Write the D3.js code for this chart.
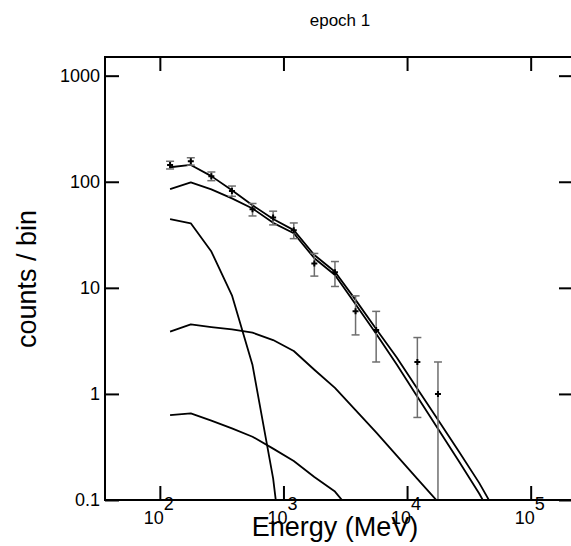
<!DOCTYPE html>
<html>
<head>
<meta charset="utf-8">
<script src="https://cdn.jsdelivr.net/npm/d3@7"></script>
<style>
  body { margin: 0; background: #fff; }
  text { font-family: "Liberation Sans", Arial, Helvetica, sans-serif; }
</style>
</head>
<body>
<div id="app"></div>
<script>
// Bin centres (MeV), six log bins per decade
const energy = [121, 178, 261, 383, 562, 825, 1212, 1778, 2610, 3831, 5623, 8254,
  12115, 17783, 26102, 38312, 56234];

// Observed counts per bin and their errors (bin 12 has no counts)
const counts = [144, 156, 113, 82, 55, 46, 35, 17, 14, 6, 4, 0, 2, 1];
const errors = [12, 12.5, 10.6, 9.1, 7.4, 6.8, 5.9, 4.1, 3.7, 2.4, 2, 0, 1.4, 1];

// Model curves (counts / bin at each bin centre)
const modelTotal = [137, 144, 113, 83, 60, 44.5, 35, 20.4, 14.2, 7.7, 4.1, 2.2, 1.12,
  0.57, 0.29, 0.145, 0.066];
const modelMain = [85.3, 98.6, 84.7, 69.8, 56, 41, 32.7, 19, 13.2, 7.0, 3.7, 1.89, 0.94,
  0.47, 0.234, 0.115, 0.052];
const modelSteep = [44.5, 40.6, 22, 8.5, 1.87, 0.16, 0.004];
const modelFlat = [3.86, 4.53, 4.27, 4.05, 3.78, 3.22, 2.54, 1.69, 1.14, 0.705, 0.433,
  0.262, 0.158, 0.096, 0.05];
const modelLow = [0.632, 0.656, 0.561, 0.474, 0.395, 0.305, 0.233, 0.165, 0.12, 0.07];

const xTicks = [1e2, 1e3, 1e4, 1e5];
const xExponents = ["2", "3", "4", "5"];
const yTicks = [0.1, 1, 10, 100, 1000];
const yTickLabels = ["0.1", "1", "10", "100", "1000"];

const width = 571;
const height = 546;
const margin = { top: 57, right: -2, bottom: 46, left: 105 };

const svg = d3
  .select("#app")
  .append("svg")
  .attr("width", width)
  .attr("height", height);

const x = d3
  .scaleLog()
  .domain([36, 2.2e5])
  .range([margin.left, width - margin.right]);

const y = d3
  .scaleLog()
  .domain([0.1, 1500])
  .range([height - margin.bottom, margin.top]);

// Clip so curves stop at the frame
svg
  .append("clipPath")
  .attr("id", "plot-clip")
  .append("rect")
  .attr("x", margin.left)
  .attr("y", margin.top)
  .attr("width", width - margin.right - margin.left)
  .attr("height", height - margin.bottom - margin.top);

// Model lines
const line = d3
  .line()
  .x((d, i) => x(energy[i]))
  .y((d) => y(d));

svg
  .append("g")
  .attr("clip-path", "url(#plot-clip)")
  .selectAll("path")
  .data([modelTotal, modelMain, modelSteep, modelFlat, modelLow])
  .join("path")
  .attr("fill", "none")
  .attr("stroke", "#000")
  .attr("stroke-width", 1.8)
  .attr("stroke-linejoin", "round")
  .attr("d", line);

// Data points with error bars
const points = counts
  .map((c, i) => ({ e: energy[i], c: c, err: errors[i] }))
  .filter((d) => d.c > 0);

const pts = svg.append("g").attr("clip-path", "url(#plot-clip)");
const lo = (d) => (d.c - d.err > 0 ? y(d.c - d.err) : height - margin.bottom);

pts
  .selectAll(".bar")
  .data(points)
  .join("line")
  .attr("class", "bar")
  .attr("x1", (d) => x(d.e))
  .attr("x2", (d) => x(d.e))
  .attr("y1", (d) => y(d.c + d.err))
  .attr("y2", lo)
  .attr("stroke", "#6e6e6e")
  .attr("stroke-width", 1.5);

pts
  .selectAll(".cap-top")
  .data(points)
  .join("line")
  .attr("class", "cap-top")
  .attr("x1", (d) => x(d.e) - 4)
  .attr("x2", (d) => x(d.e) + 4)
  .attr("y1", (d) => y(d.c + d.err))
  .attr("y2", (d) => y(d.c + d.err))
  .attr("stroke", "#6e6e6e")
  .attr("stroke-width", 1.5);

pts
  .selectAll(".cap-bot")
  .data(points.filter((d) => d.c - d.err > 0))
  .join("line")
  .attr("class", "cap-bot")
  .attr("x1", (d) => x(d.e) - 4)
  .attr("x2", (d) => x(d.e) + 4)
  .attr("y1", lo)
  .attr("y2", lo)
  .attr("stroke", "#6e6e6e")
  .attr("stroke-width", 1.5);

pts
  .selectAll(".mark")
  .data(points)
  .join("path")
  .attr("class", "mark")
  .attr("d", (d) => {
    const px = x(d.e), py = y(d.c);
    return `M${px - 3},${py}H${px + 3}M${px},${py - 3}V${py + 3}`;
  })
  .attr("stroke", "#000")
  .attr("stroke-width", 2);

// Axes: ticks point inwards on all four sides
const tick = 14;
const styleAxis = (g) => {
  g.select(".domain").remove();
  g.selectAll(".tick line").attr("stroke", "#000").attr("stroke-width", 2);
  g.selectAll(".tick text")
    .attr("fill", "#000")
    .style("font-size", "18px")
    .style("font-family", '"Liberation Sans", Arial, sans-serif');
};

svg
  .append("g")
  .attr("transform", `translate(0,${height - margin.bottom})`)
  .call(d3.axisBottom(x).tickValues(xTicks).tickSize(-tick).tickFormat(""))
  .call(styleAxis);

svg
  .append("g")
  .attr("transform", `translate(0,${margin.top})`)
  .call(d3.axisTop(x).tickValues(xTicks).tickSize(-tick).tickFormat(""))
  .call(styleAxis);

svg
  .append("g")
  .attr("transform", `translate(${margin.left},0)`)
  .call(
    d3
      .axisLeft(y)
      .tickValues(yTicks)
      .tickSize(-tick)
      .tickPadding(5)
      .tickFormat((d, i) => yTickLabels[i])
  )
  .call(styleAxis);

svg
  .append("g")
  .attr("transform", `translate(${width - margin.right},0)`)
  .call(d3.axisRight(y).tickValues(yTicks).tickSize(-tick).tickFormat(""))
  .call(styleAxis);

// Frame
svg
  .append("rect")
  .attr("x", margin.left)
  .attr("y", margin.top)
  .attr("width", width - margin.right - margin.left)
  .attr("height", height - margin.bottom - margin.top)
  .attr("fill", "none")
  .attr("stroke", "#000")
  .attr("stroke-width", 2);

// Power-of-ten labels under the bottom axis
const xLab = svg
  .append("g")
  .selectAll("text")
  .data(xTicks)
  .join("text")
  .attr("x", (d) => x(d) - 1)
  .attr("y", 524)
  .attr("text-anchor", "middle")
  .style("font-size", "18px");
xLab.append("tspan").text("10");
xLab
  .append("tspan")
  .attr("dy", -14)
  .text((d, i) => xExponents[i]);

// Titles
svg
  .append("text")
  .attr("x", 335)
  .attr("y", 536)
  .attr("text-anchor", "middle")
  .style("font-size", "27px")
  .text("Energy (MeV)");

svg
  .append("text")
  .attr("transform", "translate(36,279) rotate(-90)")
  .attr("text-anchor", "middle")
  .style("font-size", "27px")
  .text("counts / bin");

svg
  .append("text")
  .attr("x", 340)
  .attr("y", 26)
  .attr("text-anchor", "middle")
  .style("font-size", "17px")
  .text("epoch 1");
</script>
</body>
</html>
